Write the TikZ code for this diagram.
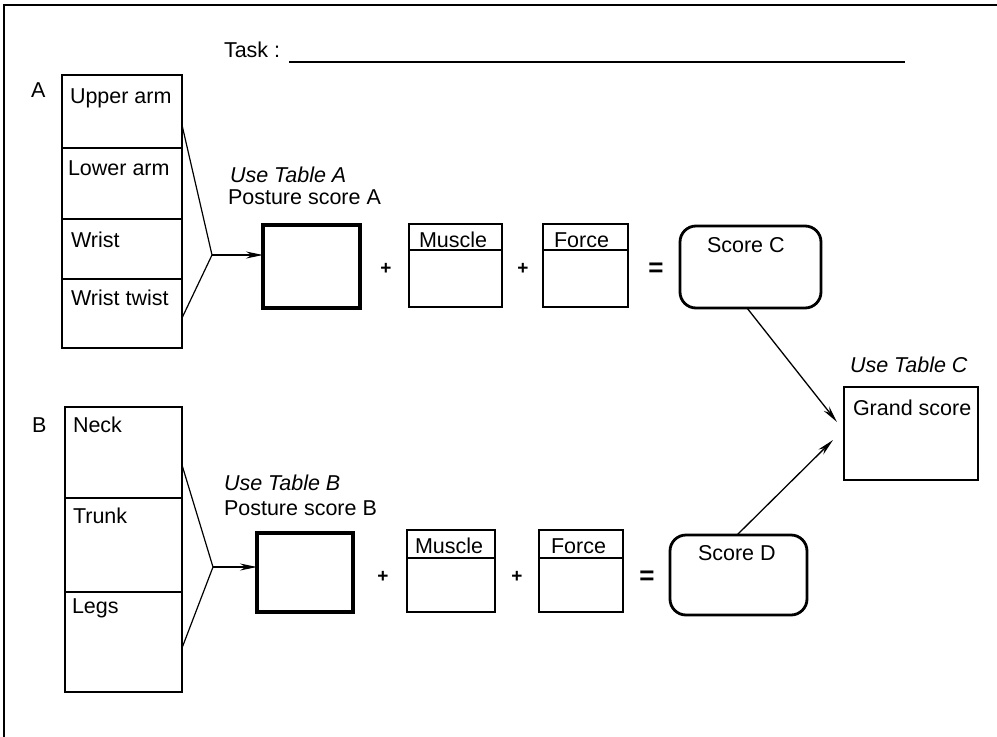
\documentclass[tikz,border=0pt]{standalone}
\usepackage{fontspec}
\setmainfont{Liberation Sans}
\usetikzlibrary{arrows.meta,calc}
\begin{document}
\begin{tikzpicture}[x=1pt,y=-1pt,
  every node/.style={inner sep=0pt,outer sep=0pt},
  lbl/.style={anchor=base west,font=\fontsize{21.5}{24}\selectfont},
  ilbl/.style={anchor=base west,font=\fontsize{21.5}{24}\selectfont\itshape},
  cell/.style={draw,line width=2pt,anchor=north west},
  post/.style={draw,line width=3.2pt,anchor=north west},
  mfbox/.style={draw,line width=2.2pt,anchor=north west},
  score/.style={draw,line width=2.8pt,rounded corners=16pt,anchor=north west},
  fan/.style={line width=1.2pt},
  arr/.style={line width=1.3pt,-{Stealth[length=17pt,width=7pt]}},
  op/.style={font=\fontsize{19}{21}\selectfont\bfseries}
]
\useasboundingbox (0,0) rectangle (997,737);
% frame
\draw[line width=1.6pt] (4,737) -- (4,5) -- (997,5);
% task
\node[lbl] (task) at (224,57) {Task :};
\coordinate (tl1) at (289,62);
\coordinate (tl2) at (905,62);
\draw[line width=1.4pt] (tl1) -- (tl2);

% ---------- A ----------
\node[lbl] (Alab) at (31,97) {A};
\node[cell,minimum width=120pt,minimum height=73pt] (a1) at (62,75) {};
\node[cell,minimum width=120pt,minimum height=71pt] (a2) at (62,148) {};
\node[cell,minimum width=120pt,minimum height=60pt] (a3) at (62,219) {};
\node[cell,minimum width=120pt,minimum height=69pt] (a4) at (62,279) {};
\node[lbl] (ta1) at (70,103) {Upper arm};
\node[lbl] (ta2) at (68,175) {Lower arm};
\node[lbl] (ta3) at (71,247) {Wrist};
\node[lbl] (ta4) at (71,305) {Wrist twist};

\node[ilbl] (useA) at (230,182) {Use Table A};
\node[lbl] (psA) at (228,204) {Posture score A};
\node[post,minimum width=97pt,minimum height=83pt] (pA) at (263,225) {};
\coordinate (jA) at (212,255);
\draw[fan] (a1.north east |- 0,125) -- (jA) -- (a4.north east |- 0,318);
\draw[arr] (jA) -- (pA.west |- jA);

\node[op] (plA1) at (386,269) {+};
\node[mfbox,minimum width=93pt,minimum height=26pt] (mA) at (409,224) {};
\node[mfbox,minimum width=93pt,minimum height=57pt] (mAb) at (409,250) {};
\node[lbl] (mAt) at (419,247) {Muscle};
\node[op] (plA2) at (523,269) {+};
\node[mfbox,minimum width=85pt,minimum height=26pt] (fA) at (543,224) {};
\node[mfbox,minimum width=85pt,minimum height=57pt] (fAb) at (543,250) {};
\node[lbl] (fAt) at (554,247) {Force};
\node[font=\fontsize{26}{28}\selectfont\bfseries] (eqA) at (656,270) {=};
\node[score,minimum width=141pt,minimum height=82pt] (sC) at (680,226) {};
\node[lbl] (sCt) at (707,252) {Score C};

% ---------- B ----------
\node[lbl] (Blab) at (32,432) {B};
\node[cell,minimum width=117pt,minimum height=91pt] (b1) at (65,407) {};
\node[cell,minimum width=117pt,minimum height=94pt] (b2) at (65,498) {};
\node[cell,minimum width=117pt,minimum height=100pt] (b3) at (65,592) {};
\node[lbl] (tb1) at (73,432) {Neck};
\node[lbl] (tb2) at (73,523) {Trunk};
\node[lbl] (tb3) at (72,613) {Legs};

\node[ilbl] (useB) at (224,490) {Use Table B};
\node[lbl] (psB) at (224,515) {Posture score B};
\node[post,minimum width=96pt,minimum height=79pt] (pB) at (257,533) {};
\coordinate (jB) at (213,567);
\draw[fan] (b1.north east |- 0,465) -- (jB) -- (b3.north east |- 0,648);
\draw[arr] (jB) -- (pB.west |- jB);

\node[op] (plB1) at (383,577) {+};
\node[mfbox,minimum width=88pt,minimum height=28pt] (mB) at (407,530) {};
\node[mfbox,minimum width=88pt,minimum height=54pt] (mBb) at (407,558) {};
\node[lbl] (mBt) at (415,553) {Muscle};
\node[op] (plB2) at (517,577) {+};
\node[mfbox,minimum width=84pt,minimum height=28pt] (fB) at (539,530) {};
\node[mfbox,minimum width=84pt,minimum height=54pt] (fBb) at (539,558) {};
\node[lbl] (fBt) at (551,553) {Force};
\node[font=\fontsize{26}{28}\selectfont\bfseries] (eqB) at (647,578) {=};
\node[score,minimum width=137pt,minimum height=80pt] (sD) at (670,535) {};
\node[lbl] (sDt) at (698,560) {Score D};

% ---------- C ----------
\node[ilbl] (useC) at (850,372) {Use Table C};
\node[post,line width=2.8pt,minimum width=134pt,minimum height=93pt] (gs) at (844,387) {};
\node[lbl] (gst) at (853,415) {Grand score};
\coordinate (gC) at (837,422);
\coordinate (gD) at (833,440);
\draw[arr] (sC.south -| 747,0) -- (gC);
\draw[arr] (sD.north -| 737,0) -- (gD);
\end{tikzpicture}
\end{document}
